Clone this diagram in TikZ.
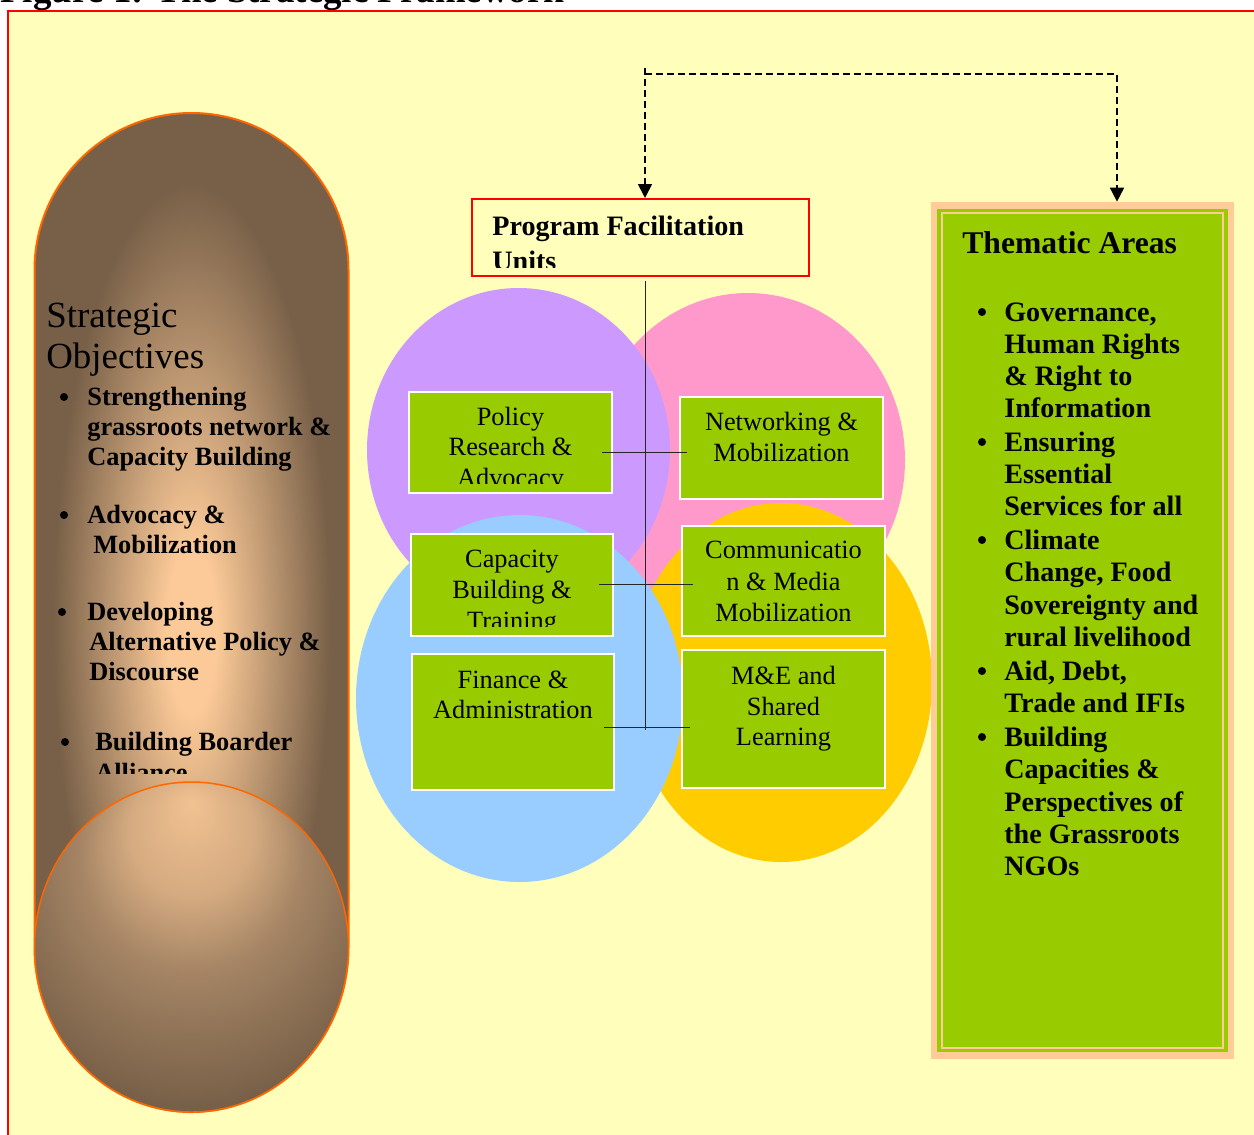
\documentclass[tikz,border=0pt]{standalone}
\usepackage{fontspec}
\setmainfont{Liberation Serif}
\usetikzlibrary{arrows.meta,fit}

\definecolor{paper}{HTML}{FFFFBB}
\definecolor{unitgreen}{HTML}{99CC00}
\definecolor{thmpeach}{HTML}{FFCC99}
\definecolor{capedge}{HTML}{FF6600}
\definecolor{caplight}{HTML}{FCCA98}
\definecolor{capmid}{HTML}{A48464}
\definecolor{capdark}{HTML}{786048}
\definecolor{polviolet}{HTML}{CC99FF}
\definecolor{netpink}{HTML}{FF99CC}
\definecolor{capblue}{HTML}{99CCFF}
\definecolor{comgold}{HTML}{FFCC00}

\pgfdeclareradialshading{capsule}{\pgfpoint{0bp}{-1bp}}{color(0bp)=(caplight); color(4bp)=(caplight); color(22bp)=(capdark); color(50bp)=(capdark)}
\pgfdeclareradialshading{bulb}{\pgfpoint{0bp}{22bp}}{color(0bp)=(caplight!92!capdark); color(10bp)=(caplight!70!capdark); color(18bp)=(capmid); color(32bp)=(capdark); color(50bp)=(capdark)}

\begin{document}
\begin{tikzpicture}[x=0.02cm,y=-0.02cm,
    unitbox/.style={draw=white,line width=0.04cm,fill=unitgreen,inner sep=0pt},
    unittext/.style={inner sep=0pt,anchor=base,font=\fontsize{15}{17}\selectfont},
    objtext/.style={inner sep=0pt,anchor=base west,font=\fontsize{15}{17}\selectfont\bfseries},
    thmtext/.style={inner sep=0pt,anchor=base west,font=\fontsize{16}{18}\selectfont\bfseries},
    bulletdot/.style={circle,fill,inner sep=0pt,minimum size=0.16cm},
    flow/.style={dash pattern=on 0.14cm off 0.08cm,line width=0.035cm,-{Triangle[length=0.28cm,width=0.28cm]}},
    link/.style={line width=0.02cm,black!85}]
% Page and frame
  \useasboundingbox (0,0) rectangle (1254,1134);
  \node[anchor=base west,inner sep=0pt,font=\fontsize{21}{24}\selectfont\bfseries] (caption) at (0,2) {Figure 1: The Strategic Framework};
  \draw[red,line width=0.04cm,fill=paper] (8,11) rectangle (1300,1200);

% Strategic objectives capsule
  \shadedraw[shading=capsule,draw=capedge,line width=0.04cm] (34.5,947) -- (34.5,270) arc[start angle=180,end angle=360,radius=157] -- (348.5,947) arc[start angle=0,end angle=180,x radius=157,y radius=165] -- cycle;
  \begin{scope}
    \clip (34,100) rectangle (349,773);
    \node[inner sep=0pt,anchor=base west,font=\fontsize{21}{24}\selectfont] (obj-head1) at (46,327) {Strategic};
    \node[inner sep=0pt,anchor=base west,font=\fontsize{21}{24}\selectfont] (obj-head2) at (46,368) {Objectives};
    \foreach \x/\y/\t [count=\k] in {87/405/Strengthening, 87/435/grassroots network \&, 87/465/Capacity Building,
        87/523/Advocacy \&, 93/553/Mobilization, 87/620/Developing, 89/650/Alternative Policy \&,
        89/680/Discourse, 95/750/Building Boarder, 95/781/Alliance}
      \node[objtext] (obj-\k) at (\x,\y) {\t};
    \foreach \x/\y [count=\k] in {64/397, 64/515, 62/612, 65/742}
      \node[bulletdot] (obj-dot\k) at (\x,\y) {};
  \end{scope}
  \shadedraw[shading=bulb,draw=capedge,line width=0.03cm] (191.5,947) ellipse [x radius=157,y radius=165];

% Overlapping circles
  \foreach \cx/\cy/\rx/\ry/\col in {748/460/157/167/netpink, 518.5/450/151.5/162/polviolet,
      781/682.5/151/179.5/comgold, 519.5/698.5/163.5/183.5/capblue}
    \fill[\col] (\cx,\cy) ellipse [x radius=\rx,y radius=\ry];

% Program facilitation units
  \node[draw=red,line width=0.04cm,inner sep=0pt,fit={(472,199) (809,276)}] (pfu) {};
  \begin{scope}
    \clip (pfu.north west) rectangle ([yshift=0.2cm]pfu.south east);
    \node[inner sep=0pt,anchor=base west,font=\fontsize{16}{18}\selectfont\bfseries] (pfu-1) at (492,235) {Program Facilitation};
    \node[inner sep=0pt,anchor=base west,font=\fontsize{16}{18}\selectfont\bfseries] (pfu-2) at (492,270) {Units};
  \end{scope}

  \foreach \nm/\xa/\ya/\xb/\yb in {pra/409/392/612/493, ntw/680/397/883/499, cbt/411/534/613/636,
      cmm/682/526/885/636, fna/412/654/614/790, mes/682/650/885/788}
    \node[unitbox,fit={(\xa,\ya) (\xb,\yb)}] (\nm) {};

  \foreach \nm/\lines in {pra/{425/Policy,455/Research \&,486/Advocacy}, ntw/{430/Networking \&,461/Mobilization},
      cbt/{567/Capacity,598/Building \&,629/Training}, cmm/{558/Communicatio,590/n \& Media,621/Mobilization},
      fna/{688/Finance \&,718/Administration}, mes/{684/M\&E and,715/Shared,745/Learning}} {
    \begin{scope}
      \clip (\nm.north west) rectangle ([yshift=0.21cm]\nm.south east);
      \foreach \y/\t [count=\k] in \lines
        \node[unittext] (\nm-\k) at (\nm.center |- 0,\y) {\t};
    \end{scope}
  }

% Spine and arms
  \coordinate (spineBot) at (645,730);
  \draw[link] (pfu.south -| spineBot) ++(0,4) -- (spineBot);
  \foreach \y/\a/\b [count=\k] in {452/602/687, 584/599/693, 727/604/690} {
    \coordinate (arm\k w) at (\a,\y);
    \coordinate (arm\k e) at (\b,\y);
    \draw[link] (arm\k w) -- (arm\k e);
  }

% Thematic areas
  \node[fill=thmpeach,inner sep=0pt,fit={(931,202) (1234,1059)}] (thm) {};
  \fill[unitgreen] ([shift={(6,7)}]thm.north west) rectangle ([shift={(-6,-7)}]thm.south east);
  \draw[thmpeach,line width=0.035cm] ([shift={(11,11)}]thm.north west) rectangle ([shift={(-11,-11)}]thm.south east);
  \node[inner sep=0pt,anchor=base west,font=\fontsize{18}{21}\selectfont\bfseries] (thm-head) at (962,253) {Thematic Areas};
  \foreach \y/\t [count=\k] in {321/{Governance,}, 353/Human Rights, 385/\& Right to, 417/Information,
      451/Ensuring, 483/Essential, 515/Services for all, 549/Climate, 581/{Change, Food},
      614/Sovereignty and, 646/rural livelihood, 680/{Aid, Debt,}, 712/Trade and IFIs,
      746/Building, 778/Capacities \&, 811/Perspectives of, 843/the Grassroots, 875/NGOs}
    \node[thmtext] (thm-\k) at (1004,\y) {\t};
  \foreach \y [count=\k] in {312,442,540,671,737}
    \node[bulletdot] (thm-dot\k) at (982,\y) {};

% Dashed links
  \coordinate (fork) at (645,68);
  \coordinate (turn) at (1117,74);
  \draw[flow] (fork) -- (fork |- pfu.north);
  \draw[flow] (fork |- turn) -- (turn) -- (turn |- thm.north);
\end{tikzpicture}
\end{document}
